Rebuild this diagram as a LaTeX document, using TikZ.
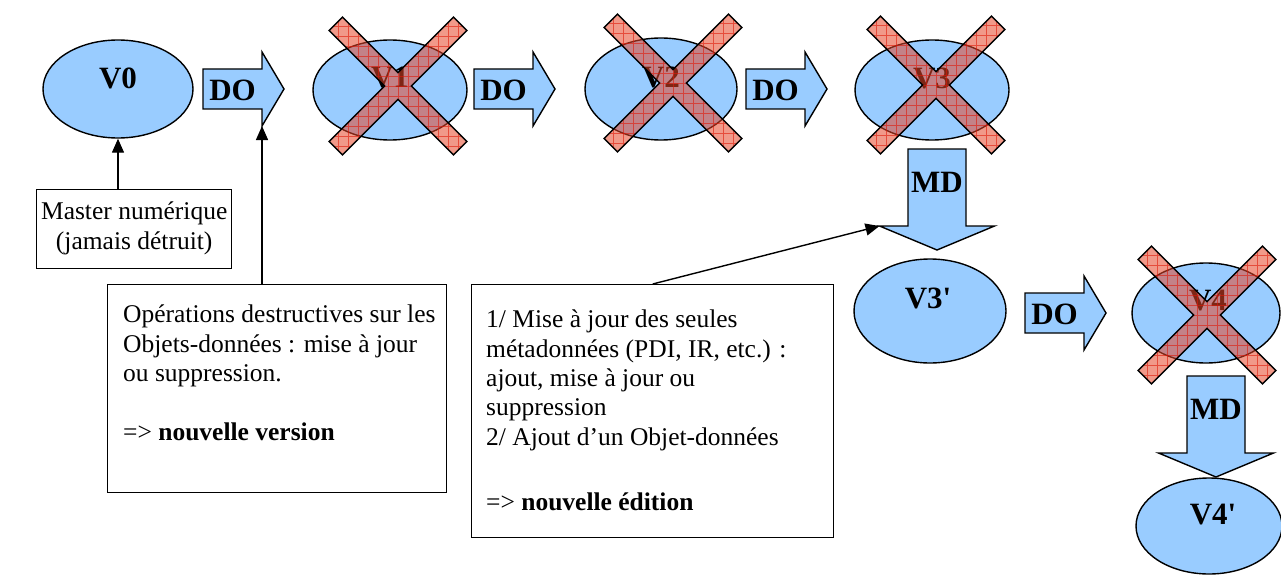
\documentclass[tikz,border=0pt]{standalone}
\usepackage{fontspec}
\setmainfont{Liberation Serif}
\newfontfamily\lblfont{Liberation Serif}
\usetikzlibrary{shapes.geometric,arrows.meta}
\definecolor{lblue}{HTML}{99CCFF}
\definecolor{xred}{HTML}{E64628}
\definecolor{gridred}{HTML}{E01808}
\newcommand{\pluspath}{(88,-9.5) -- (88,9.5) -- (9.5,9.5) -- (9.5,88) -- (-9.5,88) -- (-9.5,9.5) -- (-88,9.5) -- (-88,-9.5) -- (-9.5,-9.5) -- (-9.5,-88) -- (9.5,-88) -- (9.5,-9.5) -- cycle}
\tikzset{
  ell/.style={ellipse, draw, line width=1.4pt, fill=lblue, inner sep=0pt},
  lbl/.style={font=\lblfont\fontsize{31}{37}\selectfont\bfseries, inner sep=0pt},
  body/.style={font=\fontsize{25.5}{29.3}\selectfont, inner sep=0pt, align=left, anchor=north west},
  tbox/.style={draw, line width=1.4pt, fill=white, inner sep=0pt, anchor=north west},
  conn/.style={line width=1.4pt, -{Triangle[length=14pt,width=12pt]}},
  blockarr/.style={draw, line width=1.4pt, fill=lblue, line join=miter},
  pics/rarr/.style={code={
    \draw[blockarr] (0,-20) -- (59,-20) -- (59,-37) -- (81,0) -- (59,37) -- (59,20) -- (0,20) -- cycle;
    \coordinate (-hb) at (59,37);
    \node[lbl] (-t) at (29.5,1) {#1};
  }},
  pics/darr/.style={code={
    \draw[blockarr] (-29,0) -- (29,0) -- (29,77) -- (57.5,77) -- (0,101) -- (-57.5,77) -- (-29,77) -- cycle;
    \coordinate (-hl) at (-57.5,77);
    \node[lbl] (-t) at (0,33) {#1};
  }},
  pics/xcross/.style={code={
    \path[rotate=45, fill=xred, fill opacity=0.55] \pluspath;
    \begin{scope}
      \clip[rotate=45] \pluspath;
      \draw[gridred, line width=0.6pt, opacity=0.6] (-80,-80) grid[step=10pt] (80,80);
    \end{scope}
    \draw[rotate=45, line width=1.4pt, line join=miter] \pluspath;
  }}
}
\begin{document}
\begin{tikzpicture}[x=1pt,y=-1pt]
\useasboundingbox (0,0) rectangle (1281,575);

% ellipses
\node[ell, minimum width=150, minimum height=98] (v0) at (118,89) {};
\node[ell, minimum width=154, minimum height=100] (v1) at (390,90) {};
\node[ell, minimum width=152, minimum height=102] (v2) at (661,89) {};
\node[ell, minimum width=154, minimum height=100] (v3) at (932,90) {};
\node[ell, minimum width=152, minimum height=104] (v3p) at (930,311) {};
\node[ell, minimum width=148, minimum height=100] (v4) at (1206,313) {};
\node[ell, minimum width=146, minimum height=96] (v4p) at (1209,526) {};

% labels
\node[lbl] (v0l) at (118,78) {V0};
\node[lbl] (v1l) at (390,78) {V1};
\node[lbl] (v2l) at (661,77) {V2};
\node[lbl] (v3l) at (932,78) {V3};
\node[lbl] (v3pl) at (928,298) {V3'};
\node[lbl] (v4l) at (1208,301) {V4};
\node[lbl] (v4pl) at (1213,515) {V4'};

% crosses
\pic at (398,86) {xcross};
\pic at (673,83) {xcross};
\pic at (936,85) {xcross};
\pic at (1207,315) {xcross};

% block arrows
\pic (do1) at (203,89) {rarr=DO};
\pic (do2) at (474,89) {rarr=DO};
\pic (do3) at (746,89) {rarr=DO};
\pic (do4) at (1025,313) {rarr=DO};
\pic (md1) at (937,149) {darr=MD};
\pic (md2) at (1216,376) {darr=MD};

% text boxes
\node[tbox, minimum width=195, minimum height=79] (bm) at (36,189) {};
\node[font=\fontsize{25.5}{29.3}\selectfont, inner sep=0pt, align=center] (bmt) at ([yshift=1pt]bm.center) {Master numérique\\(jamais détruit)};

\node[tbox, minimum width=339, minimum height=208] (b2) at (107,284) {};
\node[body] (b2t) at (123,305) {Opérations destructives sur les\\Objets-données : mise à jour\\ou suppression.\\[29.3pt]=> \textbf{nouvelle version}};

\node[tbox, minimum width=362, minimum height=253] (b3) at (471,284) {};
\node[body] (b3t) at (486,310) {1/ Mise à jour des seules\\métadonnées (PDI, IR, etc.) :\\ajout, mise à jour ou\\suppression\\2/ Ajout d’un Objet-données\\[36pt]=> \textbf{nouvelle édition}};

% connectors
\draw[conn] (bm.north -| v0) -- (v0.south);
\draw[conn] (b2.north -| do1-hb) -- (do1-hb);
\draw[conn] (b3.north) -- (md1-hl);
\end{tikzpicture}
\end{document}
